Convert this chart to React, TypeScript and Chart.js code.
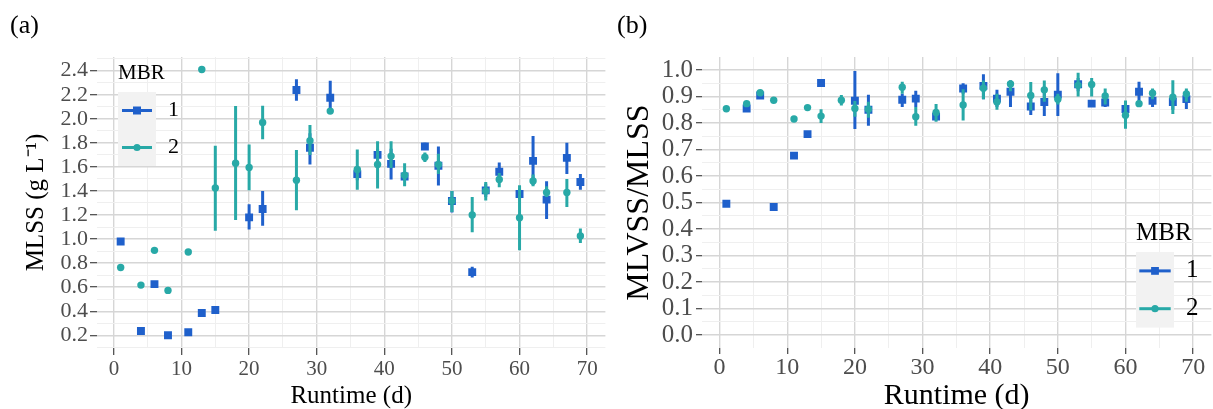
import React, { useEffect, useRef } from "react";
import { Chart, registerables } from "chart.js";

Chart.register(...registerables);

// ---------------- data ----------------
const runtimeDays = [1, 4, 6, 8, 11, 13, 15, 18, 20, 22, 27, 29, 32, 36, 39, 41, 43, 46, 48, 50, 53, 55, 57, 60, 62, 64, 67, 69];

const mlssMbr1 = [0.98, 0.235, 0.625, 0.2, 0.225, 0.385, 0.41, null, 1.18, 1.25, 2.24, 1.76, 2.175, 1.54, 1.7, 1.625, 1.52, 1.77, 1.61, 1.317, 0.725, 1.405, 1.56, 1.375, 1.65, 1.328, 1.675, 1.475];
const mlssMbr1Low = [null, null, null, null, null, null, null, null, 1.08, 1.11, 2.15, 1.62, 2.06, 1.49, 1.65, 1.495, 1.49, 1.74, 1.445, 1.22, 0.68, 1.35, 1.48, 1.33, 1.45, 1.167, 1.54, 1.41];
const mlssMbr1High = [null, null, null, null, null, null, null, null, 1.29, 1.4, 2.33, 1.88, 2.317, 1.59, 1.75, 1.75, 1.56, 1.8, 1.77, 1.4, 0.77, 1.46, 1.636, 1.42, 1.856, 1.48, 1.8, 1.54];

const mlssMbr2 = [0.764, 0.617, 0.906, 0.573, 0.892, 2.41, 1.425, 1.63, 1.595, 1.97, 1.49, 1.817, 2.064, 1.578, 1.62, 1.69, 1.53, 1.68, 1.62, 1.317, 1.2, 1.4, 1.495, 1.178, 1.483, 1.387, 1.387, 1.025];
const mlssMbr2Low = [null, null, null, null, null, null, 1.07, 1.158, 1.406, 1.83, 1.24, 1.7, null, 1.41, 1.42, 1.59, 1.44, 1.64, 1.54, 1.225, 1.056, 1.32, 1.43, 0.906, 1.44, 1.35, 1.267, 0.967];
const mlssMbr2High = [null, null, null, null, null, null, 1.775, 2.106, 1.787, 2.108, 1.74, 1.948, null, 1.745, 1.814, 1.814, 1.63, 1.72, 1.71, 1.4, 1.35, 1.475, 1.55, 1.447, 1.537, 1.44, 1.5, 1.087];

const ratioMbr1 = [0.4955, 0.855, 0.904, 0.483, 0.677, 0.758, 0.951, null, 0.884, 0.85, 0.888, 0.892, 0.824, 0.93, 0.94, 0.892, 0.918, 0.862, 0.879, 0.907, 0.946, 0.873, 0.877, 0.853, 0.918, 0.884, 0.879, 0.89];
const ratioMbr1Low = [null, null, null, null, null, null, null, null, 0.777, 0.79, 0.86, 0.86, 0.81, 0.91, 0.89, 0.86, 0.86, 0.83, 0.826, 0.826, 0.92, null, 0.86, 0.82, 0.88, 0.86, 0.85, 0.853];
const ratioMbr1High = [null, null, null, null, null, null, null, null, 0.996, 0.907, 0.91, 0.922, 0.835, 0.95, 0.984, 0.925, 0.96, 0.9, 0.915, 0.988, 0.97, null, 0.89, 0.88, 0.956, 0.91, 0.9, 0.92];

const ratioMbr2 = [0.854, 0.873, 0.914, 0.886, 0.815, 0.858, 0.826, 0.886, 0.855, 0.852, 0.935, 0.824, 0.84, 0.868, 0.931, 0.879, 0.947, 0.904, 0.925, 0.89, 0.942, 0.945, 0.902, 0.829, 0.873, 0.912, 0.897, 0.91];
const ratioMbr2Low = [null, null, null, null, null, null, 0.8, 0.866, 0.824, 0.82, 0.91, 0.79, 0.805, 0.809, 0.89, 0.85, 0.92, 0.848, 0.88, 0.87, 0.9, 0.9, 0.87, 0.778, null, 0.89, 0.834, 0.88];
const ratioMbr2High = [null, null, null, null, null, null, 0.852, 0.906, 0.883, 0.88, 0.956, 0.86, 0.872, 0.927, 0.96, 0.91, 0.96, 0.955, 0.96, 0.91, 0.99, 0.97, 0.93, 0.885, null, 0.93, 0.961, 0.93];

const seriesLabels = ["1", "2"];
const legendTitle = "MBR";
const xTitle = "Runtime (d)";
const leftYTitle = "MLSS (g L\u207B\u00B9)";
const rightYTitle = "MLVSS/MLSS";
const panelLabels = ["(a)", "(b)"];

// ---------------- styles ----------------
const BLUE = "#1f60cb";
const TEAL = "#28a9a7";
const SERIF = "'Liberation Serif', 'Times New Roman', serif";
const MAJOR = "#d6d6d6";
const MINOR = "#efefef";
const TICK_TXT = "#4d4d4d";

type Pt = { x: number; y: number; lo: number | null; hi: number | null };

function toPoints(vals: (number | null)[], lo: (number | null)[], hi: (number | null)[]): Pt[] {
  const out: Pt[] = [];
  runtimeDays.forEach((d, i) => {
    const v = vals[i];
    if (v !== null && v !== undefined) out.push({ x: d, y: v, lo: lo[i], hi: hi[i] });
  });
  return out;
}

const errorBarPlugin = {
  id: "errorBars",
  beforeDatasetDraw(chart: any, args: any) {
    const ds = chart.data.datasets[args.index];
    const xs = chart.scales.x;
    const ys = chart.scales.y;
    const area = chart.chartArea;
    const ctx = chart.ctx;
    ctx.save();
    ctx.beginPath();
    ctx.rect(area.left, area.top, area.right - area.left, area.bottom - area.top);
    ctx.clip();
    ctx.strokeStyle = ds.errColor;
    ctx.lineWidth = 3;
    ctx.lineCap = "butt";
    (ds.data as Pt[]).forEach((p) => {
      if (p.lo === null || p.hi === null || p.lo === undefined || p.hi === undefined) return;
      const x = xs.getPixelForValue(p.x);
      ctx.beginPath();
      ctx.moveTo(x, ys.getPixelForValue(p.lo));
      ctx.lineTo(x, ys.getPixelForValue(p.hi));
      ctx.stroke();
    });
    ctx.restore();
  },
};

const legendPlugin = {
  id: "mbrLegend",
  afterDraw(chart: any, _args: any, o: any) {
    const ctx = chart.ctx;
    ctx.save();
    ctx.fillStyle = "#000";
    ctx.textAlign = "left";
    ctx.textBaseline = "alphabetic";
    ctx.font = `${o.titleSize}px ${SERIF}`;
    ctx.fillText(o.title, o.x, o.titleBaseline);
    const n = chart.data.datasets.length;
    ctx.fillStyle = "#f2f2f2";
    ctx.fillRect(o.x, o.boxTop, o.boxW, o.rowH * n);
    chart.data.datasets.forEach((ds: any, i: number) => {
      const cy = o.boxTop + o.rowH * (i + 0.5);
      const cx = o.x + o.boxW / 2;
      ctx.strokeStyle = ds.errColor;
      ctx.lineWidth = 3;
      ctx.beginPath();
      ctx.moveTo(o.x + o.lineInset, cy);
      ctx.lineTo(o.x + o.boxW - o.lineInset, cy);
      ctx.stroke();
      ctx.fillStyle = ds.errColor;
      ctx.beginPath();
      if (ds.pointStyle === "rect") {
        ctx.rect(cx - o.sq, cy - o.sq, o.sq * 2, o.sq * 2);
      } else {
        ctx.arc(cx, cy, o.cr, 0, Math.PI * 2);
      }
      ctx.fill();
      ctx.fillStyle = "#000";
      ctx.font = `${o.labelSize}px ${SERIF}`;
      ctx.textBaseline = "middle";
      ctx.fillText(ds.label, o.labelX, cy);
    });
    ctx.restore();
  },
};

const panelLabelPlugin = {
  id: "panelLabel",
  afterDraw(chart: any, _args: any, o: any) {
    const ctx = chart.ctx;
    ctx.save();
    ctx.fillStyle = "#000";
    ctx.textAlign = "left";
    ctx.textBaseline = "alphabetic";
    ctx.font = `${o.size}px ${SERIF}`;
    ctx.fillText(o.text, o.x, o.y);
    ctx.restore();
  },
};

function makeConfig(p: any): any {
  const isMajorX = (v: number) => Math.round(v) % 10 === 0;
  const isMajorY = (v: number) => Math.round(v / p.yStep) % 2 === 0;
  return {
    type: "scatter",
    data: {
      datasets: [
        {
          label: seriesLabels[0],
          data: p.s1,
          order: 1,
          errColor: BLUE,
          pointStyle: "rect",
          pointRadius: 5.6,
          pointBackgroundColor: BLUE,
          pointBorderColor: BLUE,
          pointBorderWidth: 0,
          showLine: false,
        },
        {
          label: seriesLabels[1],
          data: p.s2,
          order: 0,
          errColor: TEAL,
          pointStyle: "circle",
          pointRadius: 3.7,
          pointBackgroundColor: TEAL,
          pointBorderColor: TEAL,
          pointBorderWidth: 0,
          showLine: false,
        },
      ],
    },
    options: {
      responsive: false,
      animation: false,
      devicePixelRatio: 1,
      events: [],
      layout: { padding: { top: 57, left: 0, right: 0, bottom: 0 } },
      plugins: {
        legend: { display: false },
        tooltip: { enabled: false },
        mbrLegend: p.legend,
        panelLabel: p.label,
      },
      scales: {
        x: {
          type: "linear",
          min: p.xMin,
          max: p.xMax,
          afterFit: (s: any) => {
            s.height = 61;
          },
          border: { display: false },
          grid: {
            color: (c: any) => (isMajorX(c.tick.value) ? MAJOR : MINOR),
            lineWidth: (c: any) => (isMajorX(c.tick.value) ? 1.4 : 1),
            tickColor: (c: any) => (isMajorX(c.tick.value) ? "#444" : "rgba(0,0,0,0)"),
            tickLength: p.xTickLen,
            tickWidth: 1.2,
          },
          ticks: {
            stepSize: 5,
            includeBounds: false,
            autoSkip: false,
            maxRotation: 0,
            padding: p.xTickPad,
            color: TICK_TXT,
            font: { family: SERIF, size: p.xTickSize, lineHeight: 1 },
            callback: (v: number) => (isMajorX(v) ? String(Math.round(v)) : ""),
          },
          title: {
            display: true,
            text: xTitle,
            color: "#000",
            font: { family: SERIF, size: p.xTitleSize, lineHeight: 1 },
            padding: { top: 0, bottom: p.xTitlePadBottom },
          },
        },
        y: {
          type: "linear",
          min: p.yMin,
          max: p.yMax,
          afterFit: (s: any) => {
            s.width = p.yAxisWidth;
          },
          border: { display: false },
          grid: {
            color: (c: any) => (isMajorY(c.tick.value) ? MAJOR : MINOR),
            lineWidth: (c: any) => (isMajorY(c.tick.value) ? 1.4 : 1),
            tickColor: (c: any) => (isMajorY(c.tick.value) ? "#444" : "rgba(0,0,0,0)"),
            tickLength: p.yTickLen,
            tickWidth: 1.2,
          },
          ticks: {
            stepSize: p.yStep,
            includeBounds: false,
            autoSkip: false,
            padding: p.yTickPad,
            color: TICK_TXT,
            font: { family: SERIF, size: p.yTickSize, lineHeight: 1 },
            callback: (v: number) => (isMajorY(v) ? v.toFixed(1) : ""),
          },
          title: {
            display: true,
            text: p.yTitle,
            color: "#000",
            font: { family: SERIF, size: p.yTitleSize, lineHeight: 1.2 },
            padding: { top: p.yTitlePad, bottom: 0 },
          },
        },
      },
    },
    plugins: [errorBarPlugin, legendPlugin, panelLabelPlugin],
  };
}

export default function App() {
  const leftRef = useRef<HTMLCanvasElement>(null);
  const rightRef = useRef<HTMLCanvasElement>(null);

  useEffect(() => {
    const leftSpec = {
      s1: toPoints(mlssMbr1, mlssMbr1Low, mlssMbr1High),
      s2: toPoints(mlssMbr2, mlssMbr2Low, mlssMbr2High),
      xMin: -2.5,
      xMax: 72.7,
      yMin: 0.094,
      yMax: 2.514,
      yStep: 0.1,
      yAxisWidth: 97,
      xTickLen: 7,
      xTickPad: 4,
      xTickSize: 21,
      xTitleSize: 25,
      xTitlePadBottom: 0,
      yTickLen: 7,
      yTickPad: 2,
      yTickSize: 22,
      yTitle: leftYTitle,
      yTitleSize: 25,
      yTitlePad: 21,
      legend: {
        title: legendTitle,
        x: 118,
        titleBaseline: 79,
        titleSize: 21,
        boxTop: 92,
        boxW: 38,
        rowH: 37,
        lineInset: 4,
        sq: 4,
        cr: 3.6,
        labelX: 168,
        labelSize: 22,
      },
      label: { text: panelLabels[0], x: 10, y: 33, size: 26 },
    };
    const rightSpec = {
      s1: toPoints(ratioMbr1, ratioMbr1Low, ratioMbr1High),
      s2: toPoints(ratioMbr2, ratioMbr2Low, ratioMbr2High),
      xMin: -2.6,
      xMax: 72.7,
      yMin: -0.049,
      yMax: 1.049,
      yStep: 0.05,
      yAxisWidth: 96,
      xTickLen: 6,
      xTickPad: 1.5,
      xTickSize: 24,
      xTitleSize: 30,
      xTitlePadBottom: -2,
      yTickLen: 6,
      yTickPad: 3,
      yTickSize: 25,
      yTitle: rightYTitle,
      yTitleSize: 32,
      yTitlePad: 14,
      legend: {
        title: legendTitle,
        x: 530,
        titleBaseline: 240,
        titleSize: 25,
        boxTop: 252,
        boxW: 38,
        rowH: 37.8,
        lineInset: 3.3,
        sq: 3.9,
        cr: 3.6,
        labelX: 580,
        labelSize: 25,
      },
      label: { text: panelLabels[1], x: 11, y: 33, size: 26 },
    };
    const c1 = new Chart(leftRef.current as HTMLCanvasElement, makeConfig(leftSpec));
    const c2 = new Chart(rightRef.current as HTMLCanvasElement, makeConfig(rightSpec));
    return () => {
      c1.destroy();
      c2.destroy();
    };
  }, []);

  return (
    <div
      style={{
        position: "absolute",
        left: 0,
        top: 0,
        width: 1213,
        height: 409,
        overflow: "hidden",
        background: "#ffffff",
      }}
    >
      <canvas ref={leftRef} width={611} height={409} style={{ position: "absolute", left: 0, top: 0 }} />
      <canvas ref={rightRef} width={611} height={409} style={{ position: "absolute", left: 606, top: 0 }} />
    </div>
  );
}
